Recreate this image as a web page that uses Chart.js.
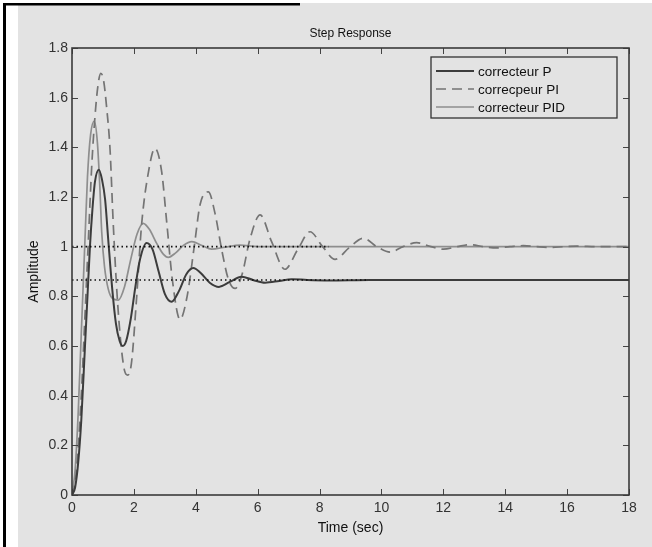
<!DOCTYPE html>
<html>
<head>
<meta charset="utf-8">
<script src="https://cdn.jsdelivr.net/npm/chart.js@4.4.1/dist/chart.umd.min.js"></script>
<style>
  html, body { margin: 0; padding: 0; background: #fff; }
  canvas { display: block; }
</style>
</head>
<body>
<canvas id="myChart" width="652" height="547"></canvas>
<script>
// step response of the three controllers
const pTime = [0, 0.1, 0.2, 0.3, 0.42, 0.5, 0.58, 0.66, 0.74, 0.87, 0.97, 1.07, 1.17, 1.3, 1.42, 1.54, 1.64, 1.75, 1.9, 2.05, 2.2, 2.41, 2.6, 2.8, 3.0, 3.22, 3.45, 3.7, 3.92, 4.15, 4.45, 4.75, 5.1, 5.48, 5.85, 6.24, 6.7, 7.1, 7.6, 8.3, 9.6, 18];
const pValue = [0, 0.03, 0.13, 0.30, 0.60, 0.80, 1.0, 1.15, 1.26, 1.31, 1.27, 1.19, 1.03, 0.83, 0.69, 0.62, 0.60, 0.62, 0.71, 0.84, 0.95, 1.015, 0.99, 0.90, 0.81, 0.778, 0.82, 0.89, 0.914, 0.895, 0.855, 0.838, 0.858, 0.879, 0.866, 0.855, 0.862, 0.869, 0.866, 0.864, 0.866, 0.866];

const piTime = [0, 0.1, 0.2, 0.3, 0.4, 0.53, 0.64, 0.74, 0.84, 0.93, 1.02, 1.12, 1.23, 1.33, 1.45, 1.58, 1.7, 1.8, 1.92, 2.08, 2.25, 2.47, 2.68, 2.9, 3.06, 3.25, 3.49, 3.72, 3.95, 4.14, 4.41, 4.62, 4.85, 5.05, 5.27, 5.5, 5.75, 6.08, 6.45, 6.88, 7.3, 7.69, 8.1, 8.5, 8.95, 9.42, 9.85, 10.28, 10.7, 11.14, 11.6, 12.0, 12.45, 12.86, 13.3, 13.72, 14.15, 14.58, 15.0, 15.45, 15.9, 16.3, 17, 18];
const piValue = [0, 0.05, 0.19, 0.40, 0.67, 1.03, 1.33, 1.52, 1.65, 1.698, 1.67, 1.56, 1.39, 1.10, 0.82, 0.61, 0.50, 0.483, 0.53, 0.78, 1.09, 1.30, 1.396, 1.30, 1.10, 0.86, 0.707, 0.80, 1.0, 1.17, 1.221, 1.135, 0.98, 0.87, 0.832, 0.89, 1.03, 1.128, 1.02, 0.909, 0.99, 1.06, 1.0, 0.949, 0.995, 1.034, 1.0, 0.978, 1.0, 1.016, 1.0, 0.99, 1.0, 1.008, 1.0, 0.995, 1.0, 1.004, 1.0, 0.997, 1.0, 1.002, 1.0, 1.0];

const pidTime = [0, 0.1, 0.2, 0.3, 0.42, 0.5, 0.6, 0.72, 0.82, 0.9, 0.96, 1.05, 1.17, 1.32, 1.5, 1.7, 1.9, 2.1, 2.3, 2.5, 2.75, 2.95, 3.11, 3.35, 3.6, 3.87, 4.2, 4.51, 4.95, 5.43, 6.0, 8.3, 18];
const pidValue = [0, 0.10, 0.33, 0.65, 1.03, 1.28, 1.45, 1.506, 1.42, 1.24, 1.06, 0.92, 0.83, 0.79, 0.785, 0.84, 0.95, 1.05, 1.094, 1.07, 1.01, 0.97, 0.957, 0.975, 1.005, 1.02, 1.005, 0.99, 0.998, 1.006, 1.0, 1.0, 1.0];

// dotted steady-state lines
const ssPTime = [0, 9.6];
const ssPValue = [0.866, 0.866];
const ssPidTime = [0, 8.3];
const ssPidValue = [1, 1];

const seriesLabels = ["correcteur P", "correcpeur PI", "correcteur PID"];
const xTickValues = [0, 2, 4, 6, 8, 10, 12, 14, 16, 18];
const xTickLabels = ["0", "2", "4", "6", "8", "10", "12", "14", "16", "18"];
const yTickValues = [0, 0.2, 0.4, 0.6, 0.8, 1, 1.2, 1.4, 1.6, 1.8];
const yTickLabels = ["0", "0.2", "0.4", "0.6", "0.8", "1", "1.2", "1.4", "1.6", "1.8"];

const toPoints = (xs, ys) => xs.map((x, i) => ({ x: x, y: ys[i] }));

const panelGray = "#e3e3e3";

// page frame, axes box, inward ticks and the legend box
const matlabLook = {
  id: "matlabLook",
  beforeDraw(chart) {
    const ctx = chart.ctx;
    ctx.save();
    ctx.fillStyle = "#fff";
    ctx.fillRect(0, 0, chart.width, chart.height);
    ctx.fillStyle = panelGray;
    ctx.fillRect(18, 5, chart.width - 18, chart.height - 5);
    ctx.fillRect(300, 3, chart.width - 300, 3);
    ctx.fillStyle = "#000";
    ctx.fillRect(3, 3, 3, chart.height - 3);
    ctx.fillRect(3, 3, 297, 2.5);
    ctx.restore();
  },
  afterDatasetsDraw(chart) {
    const ctx = chart.ctx;
    const a = chart.chartArea;
    const xs = chart.scales.x;
    const ys = chart.scales.y;
    ctx.save();
    ctx.strokeStyle = "#444";
    ctx.lineWidth = 1;
    ctx.beginPath();
    xTickValues.forEach((v) => {
      const px = Math.round(xs.getPixelForValue(v)) + 0.5;
      ctx.moveTo(px, a.bottom);
      ctx.lineTo(px, a.bottom - 6);
      ctx.moveTo(px, a.top);
      ctx.lineTo(px, a.top + 6);
    });
    yTickValues.forEach((v) => {
      const py = Math.round(ys.getPixelForValue(v)) + 0.5;
      ctx.moveTo(a.left, py);
      ctx.lineTo(a.left + 6, py);
      ctx.moveTo(a.right, py);
      ctx.lineTo(a.right - 6, py);
    });
    ctx.stroke();
    ctx.strokeStyle = "#3a3a3a";
    ctx.lineWidth = 1.6;
    ctx.strokeRect(a.left, a.top, a.right - a.left, a.bottom - a.top);

    // legend
    const lx = 431, ly = 57, lw = 186, lh = 61;
    ctx.fillStyle = panelGray;
    ctx.fillRect(lx, ly, lw, lh);
    ctx.strokeStyle = "#333";
    ctx.lineWidth = 1.3;
    ctx.strokeRect(lx, ly, lw, lh);
    ctx.font = "13.5px 'Liberation Sans', Arial, sans-serif";
    ctx.textBaseline = "middle";
    ctx.textAlign = "left";
    const rows = [71, 89, 107];
    for (let i = 0; i < 3; i++) {
      const ds = chart.data.datasets[i];
      ctx.strokeStyle = ds.borderColor;
      ctx.lineWidth = ds.borderWidth;
      ctx.setLineDash(ds.borderDash || []);
      ctx.beginPath();
      ctx.moveTo(436, rows[i]);
      ctx.lineTo(474, rows[i]);
      ctx.stroke();
      ctx.setLineDash([]);
      ctx.fillStyle = "#111";
      ctx.fillText(ds.label, 478, rows[i] + 1);
    }
    ctx.restore();
  },
};

Chart.defaults.font.family = "'Liberation Sans', Arial, sans-serif";

const ctx = document.getElementById("myChart").getContext("2d");
new Chart(ctx, {
  type: "line",
  data: {
    datasets: [
      {
        label: seriesLabels[0],
        data: toPoints(pTime, pValue),
        borderColor: "#3c3c3c",
        borderWidth: 2,
        cubicInterpolationMode: "monotone",
        pointRadius: 0,
        order: 2,
      },
      {
        label: seriesLabels[1],
        data: toPoints(piTime, piValue),
        borderColor: "#747474",
        borderWidth: 1.7,
        borderDash: [10, 6],
        cubicInterpolationMode: "monotone",
        pointRadius: 0,
        order: 3,
      },
      {
        label: seriesLabels[2],
        data: toPoints(pidTime, pidValue),
        borderColor: "#8e8e8e",
        borderWidth: 1.7,
        cubicInterpolationMode: "monotone",
        pointRadius: 0,
        order: 4,
      },
      {
        label: "ssP",
        data: toPoints(ssPTime, ssPValue),
        borderColor: "#111",
        borderWidth: 1.6,
        borderDash: [1.5, 3],
        pointRadius: 0,
        order: 1,
      },
      {
        label: "ssPID",
        data: toPoints(ssPidTime, ssPidValue),
        borderColor: "#111",
        borderWidth: 1.6,
        borderDash: [1.5, 3],
        pointRadius: 0,
        order: 1,
      },
    ],
  },
  options: {
    responsive: false,
    devicePixelRatio: 1,
    animation: false,
    layout: { padding: { left: 0, right: 23, top: 0, bottom: 0 } },
    plugins: {
      legend: { display: false },
      tooltip: { enabled: false },
      title: {
        display: true,
        text: "Step Response",
        fullSize: false,
        color: "#111",
        font: { size: 12, weight: "normal" },
        padding: { top: 26, bottom: 7.6 },
      },
    },
    scales: {
      x: {
        type: "linear",
        min: 0,
        max: 18,
        afterBuildTicks: (s) => {
          s.ticks = xTickValues.map((v) => ({ value: v }));
        },
        afterFit: (s) => {
          s.height = 52;
        },
        ticks: {
          callback: (v, i) => xTickLabels[i],
          color: "#333",
          font: { size: 14 },
          padding: 5,
          maxRotation: 0,
          autoSkip: false,
        },
        grid: { display: false, drawTicks: false },
        border: { display: false },
        title: {
          display: true,
          text: "Time (sec)",
          color: "#111",
          font: { size: 14 },
          padding: { top: 0, bottom: 10 },
        },
      },
      y: {
        type: "linear",
        min: 0,
        max: 1.8,
        afterBuildTicks: (s) => {
          s.ticks = yTickValues.map((v) => ({ value: v }));
        },
        afterFit: (s) => {
          s.width = 72;
        },
        ticks: {
          callback: (v, i) => yTickLabels[i],
          color: "#333",
          font: { size: 14 },
          padding: 4,
          autoSkip: false,
        },
        grid: { display: false, drawTicks: false },
        border: { display: false },
        title: {
          display: true,
          text: "Amplitude",
          color: "#111",
          font: { size: 14 },
          padding: { top: 26, bottom: 0 },
        },
      },
    },
  },
  plugins: [matlabLook],
});
</script>
</body>
</html>
